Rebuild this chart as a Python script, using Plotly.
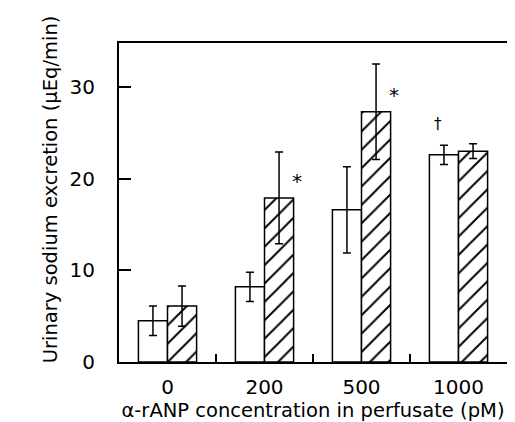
import plotly.graph_objects as go

categories = ["0", "200", "500", "1000"]
control_vals = [4.5, 8.2, 16.6, 22.6]
control_err = [1.6, 1.6, 4.7, 1.05]
treated_vals = [6.1, 17.9, 27.3, 23.0]
treated_err = [2.2, 5.0, 5.2, 0.8]
treated_marks = ["", "*", "*", ""]
control_marks = ["", "", "", "†"]
y_ticks = [0, 10, 20, 30]
x_title = "α-rANP concentration in perfusate (pM)"
y_title = "Urinary sodium excretion (μEq/min)"

FONT = "DejaVu Sans, Liberation Sans, Arial, sans-serif"
idx = list(range(len(categories)))

fig = go.Figure()
fig.add_trace(go.Bar(
    x=idx, y=control_vals,
    error_y=dict(type="data", array=control_err, color="black", thickness=1.5, width=4),
    marker=dict(color="white", line=dict(color="black", width=1.5)),
    showlegend=False,
))
fig.add_trace(go.Bar(
    x=idx, y=treated_vals,
    error_y=dict(type="data", array=treated_err, color="black", thickness=1.5, width=4),
    marker=dict(color="white", line=dict(color="black", width=1.5),
                pattern=dict(shape="/", fgcolor="black", bgcolor="white",
                             size=13, solidity=0.15, fgopacity=1)),
    showlegend=False,
))
# invisible trace for the secondary axis carrying the between-group ticks
fig.add_trace(go.Scatter(x=[0.5, 1.5, 2.5], y=[0, 0, 0], xaxis="x2",
                         mode="markers", marker=dict(opacity=0), showlegend=False,
                         hoverinfo="skip"))

for i, m in enumerate(treated_marks):
    if m:
        fig.add_annotation(x=i, y=treated_vals[i] + 1.8, text=m, showarrow=False,
                           xshift=32, font=dict(family=FONT, size=20, color="black"))
for i, m in enumerate(control_marks):
    if m:
        fig.add_annotation(x=i, y=control_vals[i] + control_err[i] + 2.3, text=m,
                           showarrow=False, xshift=-21,
                           font=dict(family=FONT, size=15, color="black"))

# y-axis title placed as rotated text to the left of the frame
fig.add_annotation(xref="paper", yref="paper", x=0, y=0.54, xshift=-82,
                   text=y_title, textangle=-90, showarrow=False,
                   font=dict(family=FONT, size=19.5, color="black"))

fig.update_layout(
    width=515, height=422,
    margin=dict(l=111, r=16, t=35, b=68),
    paper_bgcolor="white", plot_bgcolor="white",
    barmode="group", bargap=0.4, bargroupgap=0,
    font=dict(family=FONT, size=20, color="black"),
    xaxis=dict(
        range=[-0.5, 3.5], tickvals=idx, ticktext=categories, ticks="",
        showline=True, linecolor="black", linewidth=2, mirror=True,
        showgrid=False, zeroline=False, automargin=False, ticklabelstandoff=6,
        title=dict(text=x_title, standoff=0, font=dict(size=19.5)),
    ),
    xaxis2=dict(
        range=[-0.5, 3.5], overlaying="x", side="bottom", tickvals=[0.5, 1.5, 2.5],
        ticks="inside", ticklen=8, tickwidth=2, tickcolor="black",
        showticklabels=False, showgrid=False, zeroline=False, showline=False,
        automargin=False,
    ),
    yaxis=dict(
        range=[0, 34.8], tickvals=y_ticks, ticks="inside", ticklen=12, tickwidth=2,
        tickcolor="black", showline=True, linecolor="black", linewidth=2, mirror=True,
        showgrid=False, zeroline=False, ticklabelstandoff=18, automargin=False,
    ),
)

fig.write_html("out.html")
